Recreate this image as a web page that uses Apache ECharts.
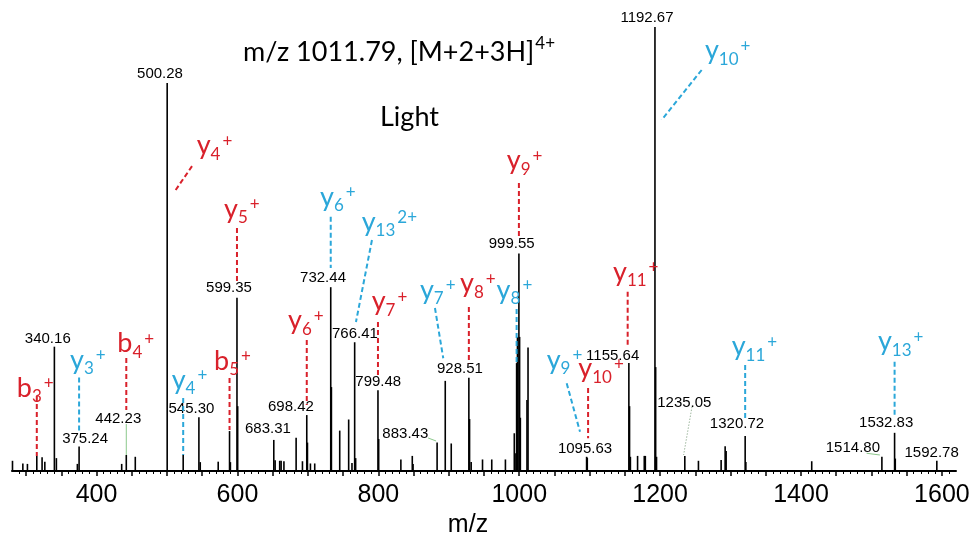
<!DOCTYPE html>
<html>
<head>
<meta charset="utf-8">
<title>m/z 1011.79 fragment spectrum</title>
<script src="https://cdn.jsdelivr.net/npm/echarts@6.0.0/dist/echarts.min.js"></script>
<style>
  html, body { margin: 0; padding: 0; background: #ffffff; }
  #chart { width: 974px; height: 535px; }
</style>
</head>
<body>
<div id="chart"></div>
<script>
// ---------- spectrum: m/z and relative intensity (%) ----------
const peakMz = [
  280.7, 295.4, 301.9, 315.2, 322.7, 326.6, 340.16, 343.0, 372.8, 375.24,
  435.7, 442.23, 455.0, 500.28, 523.0, 545.30, 547.2, 572.7, 588.8, 590.0,
  599.35, 600.35, 651.6, 653.5, 660.0, 662.0, 666.0, 683.31, 692.3, 698.42,
  699.4, 703.6, 709.7, 732.44, 733.4, 745.2, 757.9, 762.6, 766.41, 767.8,
  799.48, 800.5, 832.0, 848.2, 849.3, 883.43, 895.0, 903.5, 928.51, 929.5,
  931.8, 947.9, 961.0, 980.4, 993.0, 995.3, 996.3, 997.5, 999.55, 1000.55,
  1001.6, 1011.0, 1012.5, 1095.63, 1096.6, 1155.64, 1156.6, 1157.8, 1168.0, 1177.5,
  1179.0, 1192.67, 1193.67, 1194.9, 1235.05, 1254.4, 1286.6, 1292.3, 1293.7, 1320.72,
  1321.7, 1415.2, 1514.80, 1532.83, 1533.8, 1592.78
];
const peakIntensity = [
  2.3, 1.7, 1.6, 3.4, 3.1, 2.1, 28.0, 2.9, 1.6, 5.5,
  1.6, 3.6, 3.2, 87.4, 3.6, 12.1, 2.0, 2.1, 9.0, 2.0,
  39.0, 14.6, 7.0, 2.4, 2.3, 2.3, 2.2, 7.5, 2.2, 12.6,
  6.4, 1.7, 1.7, 41.4, 18.9, 9.1, 11.6, 1.8, 29.0, 2.9,
  18.2, 7.2, 2.6, 3.4, 1.6, 6.4, 20.3, 6.2, 21.0, 11.7,
  2.0, 2.6, 2.6, 2.6, 8.5, 4.0, 24.3, 30.2, 49.0, 30.2,
  12.0, 16.0, 27.8, 3.2, 3.0, 24.3, 14.6, 3.2, 3.4, 3.4,
  3.4, 100.0, 23.4, 3.2, 3.4, 2.3, 2.5, 5.6, 4.5, 7.9,
  2.0, 2.2, 3.2, 8.6, 2.8, 2.3
];

// peaks printed with their m/z
const labeledMz = [
  340.16, 375.24, 442.23, 500.28, 545.30, 599.35, 683.31, 698.42, 732.44, 766.41,
  799.48, 883.43, 928.51, 999.55, 1095.63, 1155.64, 1192.67, 1235.05, 1320.72, 1514.80,
  1532.83, 1592.78
];

// fragment ion assignments (group 0 and group 1 are drawn in different colours)
const ionType   = ['b', 'y', 'b', 'y', 'y', 'b', 'y', 'y', 'y', 'y', 'y', 'y', 'y', 'y', 'y', 'y', 'y', 'y', 'y', 'y', 'y'];
const ionNumber = ['3', '3', '4', '4', '4', '5', '5', '6', '6', '13', '7', '7', '8', '8', '9', '9', '10', '11', '10', '11', '13'];
const ionCharge = ['+', '+', '+', '+', '+', '+', '+', '+', '+', '2+', '+', '+', '+', '+', '+', '+', '+', '+', '+', '+', '+'];
const ionGroup  = [0, 1, 0, 0, 1, 0, 0, 0, 1, 1, 0, 1, 0, 1, 0, 1, 0, 0, 1, 1, 1];
const ionPeakMz = [
  315.2, 375.24, 442.23, 500.28, 523.0, 588.8, 599.35, 698.42, 732.44, 766.41,
  799.48, 895.0, 928.51, 996.3, 999.55, 1095.63, 1095.63, 1155.64, 1192.67, 1320.72,
  1532.83
];

// axis
const axisMin = 280;
const axisMax = 1620;
const axisLabelValues = [400, 600, 800, 1000, 1200, 1400, 1600];
const axisTitle = 'm/z';

// header text
const precursorText = 'm/z 1011.79, [M+2+3H]';
const precursorCharge = '4+';
const sampleText = 'Light';

// ---------- layout and style ----------
const ION_COLORS = ['#d9212b', '#2ba7d9'];
const SCRIPT_FAMILY = 'Lato';
const NUMBER_FAMILY = 'Liberation Sans, Arial, sans-serif';
const MID = 0.36;           // canvas "middle" line above the alphabetic baseline, in em
const ionFont = { base: 27, small: 17, subDrop: 5, supRise: 8, gap: 1 };

// ion label: [text dx, text baseline dy, leader x1, y1, x2, y2] in px from the peak top
const ionLayout = [
  [-20, -58.2, 0, -60, 0, 0],
  [-9, -76.5, 0, -69, 0, -14],
  [-9, -101.7, 0, -97, 0, -45],
  [29.5, 72.3, 8.5, 107.1, 25.1, 82.8],
  [-11.5, -64.9, 0, -57, 0, 0],
  [-15.5, -60.3, 0, -53, 0, -1],
  [-13, -79.3, 0, -69.8, 0, -14.8],
  [-18.8, -84.7, 0, -75.1, 0, -10.1],
  [-10.7, -80.5, 0, -70.5, 0, -19.2],
  [7, -110.5, 17.3, -102.2, 1.3, -20.2],
  [-6.3, -78.8, 0, -68.2, 0, -13.2],
  [-25.3, -80.8, -10.3, -72.9, -2, -22.6],
  [-8.9, -84.4, 0, -70.8, 0, -14.5],
  [-20, -63, 0, -54, 0, 0],
  [-12.2, -83.3, 0, -70.4, 0, -16.7],
  [-39.9, -86.7, -19.9, -73.5, -6.6, -25.1],
  [-8.3, -78.4, 1.5, -68.8, 1.5, -18.5],
  [-15.9, -81.4, -1.2, -71.4, -1.2, -16.4],
  [50, 33.2, 46.7, 43, 6.7, 93],
  [-13.5, -79.5, 0, -70.9, 0, -15.9],
  [-16.7, -81.4, 0, -71.1, 0, -17.8]
];

// m/z label: [centre dx, centre dy] from the peak top, optional connector [x1, y1, x2, y2, kind]
const peakLabelLayout = [
  [-6.6, -7.7], [6, -8.1], [-8, -36, [0, -31, 0, 0, 'solid']], [-7.2, -8.9], [-7.5, -8.8],
  [-8, -10.3], [-28.2, -9.2], [-15.8, -8.1], [-7.7, -9.7], [0.3, -8.7],
  [0.3, -8.5], [-31.8, -8.6, [-9, -4.6, -1, -1.6, 'solid']], [-8.9, -8.6], [-7.2, -9.4], [-1.6, -7.8],
  [-16.2, -7.1], [-8, -9.5], [-0.5, -53.4, [7.2, -49.2, -1.2, -0.9, 'dotted']], [-8.2, -11.9], [-29, -9.3, [-15.3, -3.5, -2, -1.8, 'solid']],
  [-8.4, -10.3], [-5.2, -8.3]
];

// ---------- helpers ----------
const measureCtx = document.createElement('canvas').getContext('2d');
function measure(str, size, family) {
  measureCtx.font = size + 'px ' + (family || SCRIPT_FAMILY);
  return measureCtx.measureText(str).width;
}
function textEl(x, baseline, str, size, color, family) {
  return {
    type: 'text', x: x, y: baseline - MID * size, silent: true,
    style: { text: str, font: size + 'px ' + (family || SCRIPT_FAMILY), fill: color, align: 'left', verticalAlign: 'middle' }
  };
}
// base text followed by an optional subscript and superscript
function scripted(x, baseline, base, sub, sup, color, f) {
  const out = [textEl(x, baseline, base, f.base, color)];
  let cx = x + measure(base, f.base);
  if (sub) {
    out.push(textEl(cx, baseline + f.subDrop, sub, f.small, color));
    cx += measure(sub, f.small) + f.gap;
  }
  if (sup) out.push(textEl(cx + f.gap, baseline - f.supRise, sup, f.small, color));
  return out;
}
function intensityOf(mz) {
  return peakIntensity[peakMz.indexOf(mz)];
}

const range = (a, b, step) => { const r = []; for (let v = a; v <= b + 1e-9; v += step) r.push(v); return r; };
const majorTicks = range(300, 1600, 50);
const minorTicks = range(290, 1610, 10).filter(v => v % 50 !== 0);

// ---------- chart ----------
const chart = echarts.init(document.getElementById('chart'), null, { renderer: 'canvas' });

chart.setOption({
  animation: false,
  backgroundColor: '#ffffff',
  grid: { left: 12, right: 18, top: 27, bottom: 64, containLabel: false, outerBoundsMode: 'none' },
  xAxis: [
    {
      type: 'value', min: axisMin, max: axisMax, position: 'bottom',
      axisLine: { show: true, lineStyle: { color: '#000', width: 2 } },
      axisTick: { show: true, customValues: majorTicks, length: 5, lineStyle: { color: '#000', width: 1.5 } },
      axisLabel: {
        customValues: axisLabelValues, margin: 12, color: '#000',
        fontSize: 25, fontFamily: NUMBER_FAMILY,
        formatter: v => String(v)
      },
      splitLine: { show: false },
      name: axisTitle, nameLocation: 'middle', nameGap: 34,
      nameTextStyle: { color: '#000', fontSize: 25, fontFamily: NUMBER_FAMILY, padding: [0, 32, 0, 0] }
    },
    {
      type: 'value', min: axisMin, max: axisMax, position: 'bottom',
      axisLine: { show: false },
      axisTick: { show: true, customValues: minorTicks, length: 3, lineStyle: { color: '#000', width: 1 } },
      axisLabel: { show: false },
      splitLine: { show: false }
    }
  ],
  yAxis: { type: 'value', min: 0, max: 100, show: false },
  graphic: {
    elements: [
      {
        type: 'group', silent: true,
        children: scripted(243, 62, precursorText, '', precursorCharge, '#000',
          { base: 27, small: 17, subDrop: 0, supRise: 12, gap: 1 }).concat(
          [textEl(380, 126.7, sampleText, 27, '#000')])
      }
    ]
  },
  series: [
    {
      // spectrum sticks
      type: 'custom', name: 'peaks', xAxisIndex: 0, clip: false, z: 2,
      data: peakMz.map((m, i) => [m, peakIntensity[i]]),
      encode: { x: 0, y: 1 },
      renderItem: function (params, api) {
        const base = api.coord([api.value(0), 0]);
        const top = api.coord([api.value(0), api.value(1)]);
        return {
          type: 'line',
          shape: { x1: base[0], y1: base[1], x2: top[0], y2: top[1] },
          style: { stroke: '#000', lineWidth: 1.6 }
        };
      }
    },
    {
      // m/z values printed over peaks
      type: 'custom', name: 'peak labels', xAxisIndex: 0, clip: false, z: 3,
      data: labeledMz.map(m => [m, intensityOf(m)]),
      encode: { x: 0, y: 1 },
      renderItem: function (params, api) {
        const i = params.dataIndex;
        const mz = api.value(0);
        const top = api.coord([mz, api.value(1)]);
        const L = peakLabelLayout[i];
        const children = [];
        if (L[2]) {
          const c = L[2];
          children.push({
            type: 'line',
            shape: { x1: top[0] + c[0], y1: top[1] + c[1], x2: top[0] + c[2], y2: top[1] + c[3] },
            style: { stroke: c[4] === 'dotted' ? '#9fb89f' : '#8cc88c', lineWidth: 1, lineDash: c[4] === 'dotted' ? [1.5, 1.5] : null }
          });
        }
        children.push({
          type: 'text', x: top[0] + L[0], y: top[1] + L[1],
          style: { text: mz.toFixed(2), font: '15px ' + NUMBER_FAMILY, fill: '#000', align: 'center', verticalAlign: 'middle' }
        });
        return { type: 'group', children: children };
      }
    },
    {
      // fragment ion assignments with dashed connectors
      type: 'custom', name: 'fragment ions', xAxisIndex: 0, clip: false, z: 4,
      data: ionPeakMz.map(m => [m, intensityOf(m)]),
      encode: { x: 0, y: 1 },
      renderItem: function (params, api) {
        const i = params.dataIndex;
        const top = api.coord([api.value(0), api.value(1)]);
        const L = ionLayout[i];
        const color = ION_COLORS[ionGroup[i]];
        const children = [{
          type: 'line',
          shape: { x1: top[0] + L[2], y1: top[1] + L[3], x2: top[0] + L[4], y2: top[1] + L[5] },
          style: { stroke: color, lineWidth: 2, lineDash: [5, 3] }
        }].concat(scripted(top[0] + L[0], top[1] + L[1], ionType[i], ionNumber[i], ionCharge[i], color, ionFont));
        return { type: 'group', children: children };
      }
    }
  ]
});
</script>
</body>
</html>
